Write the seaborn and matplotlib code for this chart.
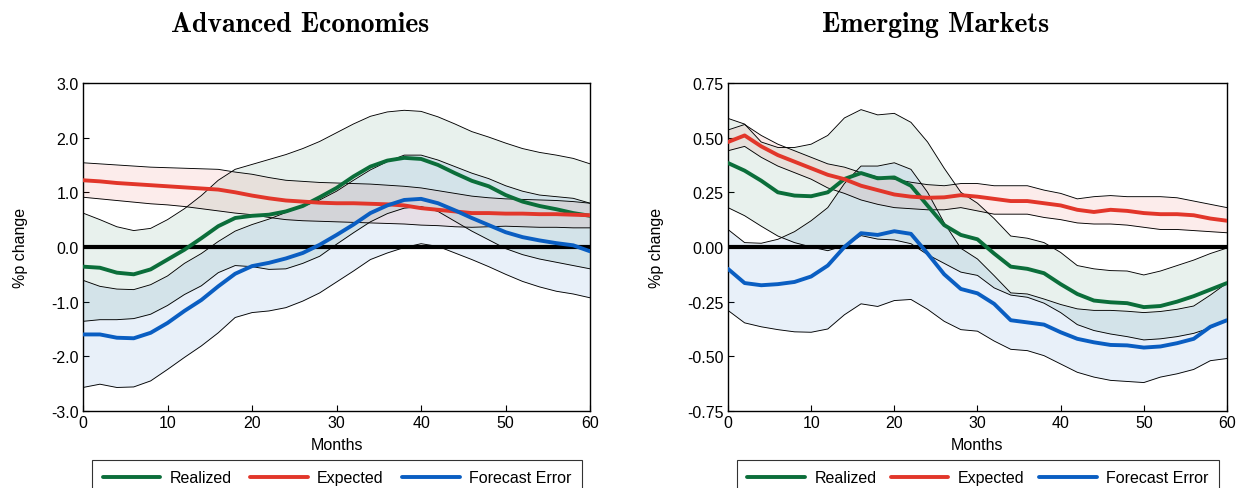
import matplotlib
matplotlib.use("Agg")
import matplotlib.pyplot as plt
import matplotlib.ticker as mticker
import numpy as np
import pandas as pd
import seaborn as sns


MONTHS = np.arange(0, 61, 2)
SERIES = ["Realized", "Expected", "Forecast Error"]
COLORS = {"Realized": "#0b6e3a", "Expected": "#e2362a", "Forecast Error": "#0a5ec2"}

# Advanced Economies (central line, lower band, upper band), every 2 months
AE_REAL = [-0.36, -0.38, -0.47, -0.50, -0.41, -0.23, -0.05, 0.16, 0.38, 0.53, 0.57, 0.59, 0.65, 0.75, 0.91, 1.08,
           1.29, 1.47, 1.58, 1.63, 1.61, 1.50, 1.35, 1.21, 1.11, 0.95, 0.83, 0.75, 0.69, 0.62, 0.57]
AE_REAL_LO = [-1.36, -1.33, -1.33, -1.31, -1.23, -1.07, -0.87, -0.71, -0.47, -0.34, -0.36, -0.41, -0.40, -0.30, -0.17,
              0.05, 0.26, 0.46, 0.61, 0.71, 0.74, 0.65, 0.47, 0.29, 0.13, -0.03, -0.14, -0.22, -0.28, -0.34, -0.40]
AE_REAL_HI = [0.62, 0.50, 0.37, 0.30, 0.34, 0.50, 0.70, 0.94, 1.22, 1.42, 1.51, 1.60, 1.69, 1.80, 1.93, 2.09,
              2.25, 2.39, 2.47, 2.50, 2.48, 2.38, 2.25, 2.11, 2.01, 1.90, 1.80, 1.73, 1.68, 1.62, 1.52]

AE_EXP = [1.22, 1.20, 1.17, 1.15, 1.13, 1.11, 1.09, 1.07, 1.05, 1.00, 0.94, 0.89, 0.85, 0.83, 0.81, 0.80,
          0.80, 0.79, 0.78, 0.76, 0.71, 0.68, 0.65, 0.62, 0.62, 0.61, 0.61, 0.60, 0.60, 0.59, 0.58]
AE_EXP_LO = [0.91, 0.88, 0.85, 0.82, 0.79, 0.77, 0.74, 0.70, 0.66, 0.62, 0.59, 0.54, 0.50, 0.48, 0.47, 0.46,
             0.45, 0.44, 0.43, 0.42, 0.40, 0.39, 0.37, 0.36, 0.37, 0.38, 0.37, 0.36, 0.36, 0.35, 0.35]
AE_EXP_HI = [1.54, 1.52, 1.50, 1.48, 1.46, 1.45, 1.44, 1.43, 1.42, 1.37, 1.33, 1.27, 1.22, 1.20, 1.18, 1.17,
             1.16, 1.15, 1.13, 1.11, 1.08, 1.03, 0.98, 0.93, 0.90, 0.88, 0.87, 0.86, 0.85, 0.83, 0.80]

AE_FE = [-1.60, -1.60, -1.66, -1.67, -1.57, -1.39, -1.17, -0.97, -0.72, -0.49, -0.35, -0.29, -0.21, -0.11, 0.04, 0.22,
         0.41, 0.62, 0.76, 0.86, 0.88, 0.80, 0.67, 0.53, 0.40, 0.27, 0.18, 0.12, 0.07, 0.03, -0.08]
AE_FE_LO = [-2.57, -2.51, -2.57, -2.56, -2.45, -2.24, -2.02, -1.81, -1.57, -1.29, -1.20, -1.17, -1.11, -0.99, -0.84,
            -0.64, -0.44, -0.23, -0.11, -0.01, 0.06, 0.01, -0.11, -0.23, -0.36, -0.50, -0.63, -0.73, -0.81, -0.86, -0.93]
AE_FE_HI = [-0.61, -0.72, -0.77, -0.78, -0.69, -0.53, -0.30, -0.12, 0.10, 0.29, 0.41, 0.51, 0.63, 0.74, 0.86, 1.02,
            1.22, 1.41, 1.56, 1.68, 1.68, 1.59, 1.47, 1.35, 1.25, 1.12, 1.02, 0.95, 0.92, 0.89, 0.80]

# Emerging Markets
EM_REAL = [0.384, 0.349, 0.303, 0.25, 0.235, 0.232, 0.25, 0.311, 0.338, 0.314, 0.318, 0.28, 0.189, 0.10, 0.055, 0.035,
           -0.03, -0.09, -0.10, -0.12, -0.17, -0.215, -0.245, -0.253, -0.257, -0.275, -0.27, -0.25, -0.225, -0.195, -0.165]
EM_REAL_LO = [0.18, 0.143, 0.095, 0.05, 0.02, 0.0, -0.017, 0.006, 0.052, 0.036, 0.032, 0.015, -0.035, -0.075, -0.115,
              -0.13, -0.187, -0.22, -0.23, -0.257, -0.30, -0.355, -0.382, -0.398, -0.41, -0.425, -0.42, -0.41, -0.395,
              -0.37, -0.335]
EM_REAL_HI = [0.588, 0.562, 0.48, 0.455, 0.455, 0.47, 0.51, 0.59, 0.628, 0.604, 0.611, 0.57, 0.48, 0.36, 0.25, 0.20,
              0.13, 0.05, 0.04, 0.02, -0.025, -0.085, -0.10, -0.108, -0.11, -0.128, -0.11, -0.085, -0.06, -0.03, -0.005]

EM_EXP = [0.48, 0.51, 0.46, 0.42, 0.39, 0.36, 0.33, 0.31, 0.28, 0.26, 0.24, 0.23, 0.225, 0.227, 0.237, 0.23,
          0.22, 0.21, 0.21, 0.20, 0.19, 0.17, 0.16, 0.17, 0.165, 0.155, 0.15, 0.15, 0.145, 0.13, 0.12]
EM_EXP_LO = [0.44, 0.46, 0.41, 0.37, 0.34, 0.31, 0.27, 0.245, 0.215, 0.195, 0.18, 0.175, 0.17, 0.17, 0.18, 0.165,
             0.15, 0.15, 0.15, 0.135, 0.125, 0.11, 0.105, 0.105, 0.10, 0.09, 0.08, 0.08, 0.075, 0.07, 0.065]
EM_EXP_HI = [0.535, 0.56, 0.51, 0.47, 0.44, 0.41, 0.38, 0.365, 0.34, 0.32, 0.31, 0.296, 0.285, 0.28, 0.29, 0.29,
             0.28, 0.28, 0.28, 0.26, 0.245, 0.22, 0.23, 0.235, 0.23, 0.23, 0.23, 0.225, 0.21, 0.195, 0.18]

EM_FE = [-0.10, -0.165, -0.175, -0.17, -0.16, -0.135, -0.085, 0.0, 0.063, 0.055, 0.072, 0.06, -0.03, -0.125, -0.192,
         -0.212, -0.26, -0.335, -0.345, -0.355, -0.39, -0.42, -0.436, -0.448, -0.45, -0.46, -0.455, -0.44, -0.42,
         -0.365, -0.335]
EM_FE_LO = [-0.29, -0.347, -0.365, -0.378, -0.388, -0.39, -0.375, -0.31, -0.26, -0.272, -0.245, -0.24, -0.285, -0.34,
            -0.378, -0.385, -0.43, -0.468, -0.474, -0.497, -0.535, -0.573, -0.595, -0.61, -0.615, -0.62, -0.595, -0.58,
            -0.56, -0.52, -0.51]
EM_FE_HI = [0.08, 0.02, 0.017, 0.035, 0.07, 0.12, 0.18, 0.29, 0.37, 0.37, 0.385, 0.355, 0.25, 0.11, -0.006, -0.055,
            -0.131, -0.21, -0.215, -0.238, -0.263, -0.283, -0.29, -0.29, -0.294, -0.30, -0.295, -0.285, -0.27, -0.22,
            -0.165]

AE_YTICKS = [-3.0, -2.0, -1.0, 0.0, 1.0, 2.0, 3.0]
EM_YTICKS = [-0.75, -0.50, -0.25, 0.0, 0.25, 0.50, 0.75]
XTICKS = [0, 10, 20, 30, 40, 50, 60]


def draw_panel(ax, bands, yticks, fmt):
    for name in SERIES:
        mid, lo, hi = bands[name]
        ax.fill_between(MONTHS, lo, hi, color=COLORS[name], alpha=0.09, lw=0, zorder=1)
        ax.plot(MONTHS, lo, color="black", lw=0.65, zorder=2)
        ax.plot(MONTHS, hi, color="black", lw=0.65, zorder=2)
    ax.axhline(0, color="black", lw=3, zorder=3)

    df = pd.DataFrame({
        "month": np.concatenate([MONTHS] * 3),
        "value": np.concatenate([bands[n][0] for n in SERIES]),
        "series": np.repeat(SERIES, len(MONTHS)),
    })
    sns.lineplot(data=df, x="month", y="value", hue="series", hue_order=SERIES, palette=COLORS,
                 lw=2.8, ax=ax, zorder=4)

    ax.set_xlim(0, 60)
    ax.set_ylim(yticks[0], yticks[-1])
    ax.set_xticks(XTICKS)
    ax.set_yticks(yticks)
    ax.yaxis.set_major_formatter(mticker.FormatStrFormatter(fmt))
    ax.tick_params(direction="in", length=4, width=0.8, labelsize=11.5, pad=3, colors="black")
    for sp in ax.spines.values():
        sp.set_color("black")
        sp.set_linewidth(1.0)
    ax.set_xlabel("Months", fontsize=11.5, labelpad=5, color="black")
    ax.set_ylabel("%p change", fontsize=11.5, labelpad=17, color="black")

    handles, labels = ax.get_legend_handles_labels()
    ax.get_legend().remove()
    leg = ax.legend(handles, labels, loc="upper left", bbox_to_anchor=(0.018, -0.30, 0.966, 0.151),
                    mode="expand", ncol=3, fontsize=11.5, frameon=True, fancybox=False,
                    handlelength=3.6, handletextpad=0.6, borderaxespad=0, borderpad=0.65,
                    labelcolor="black")
    leg.get_frame().set_edgecolor("black")
    leg.get_frame().set_linewidth(0.8)


def main():
    sns.set_style("ticks")
    plt.rcParams["font.family"] = ["Liberation Sans", "DejaVu Sans"]
    plt.rcParams["axes.unicode_minus"] = False
    plt.rcParams["text.color"] = "black"

    fig = plt.figure(figsize=(12.37, 4.89), dpi=100)
    ax1 = fig.add_axes([0.0671, 0.1575, 0.410, 0.6708])
    ax2 = fig.add_axes([0.5885, 0.1575, 0.4034, 0.6708])

    ae = {"Realized": (AE_REAL, AE_REAL_LO, AE_REAL_HI),
          "Expected": (AE_EXP, AE_EXP_LO, AE_EXP_HI),
          "Forecast Error": (AE_FE, AE_FE_LO, AE_FE_HI)}
    em = {"Realized": (EM_REAL, EM_REAL_LO, EM_REAL_HI),
          "Expected": (EM_EXP, EM_EXP_LO, EM_EXP_HI),
          "Forecast Error": (EM_FE, EM_FE_LO, EM_FE_HI)}

    draw_panel(ax1, ae, AE_YTICKS, "%.1f")
    draw_panel(ax2, em, EM_YTICKS, "%.2f")

    fig.text(300 / 1237, 1 - 32 / 489, "Advanced Economies", ha="center", va="baseline",
             fontsize=20, fontfamily="cmb10", color="black")
    fig.text(936 / 1237, 1 - 32 / 489, "Emerging Markets", ha="center", va="baseline",
             fontsize=20, fontfamily="cmb10", color="black")

    fig.savefig("out.png", dpi=100)
    plt.close(fig)


if __name__ == "__main__":
    main()
